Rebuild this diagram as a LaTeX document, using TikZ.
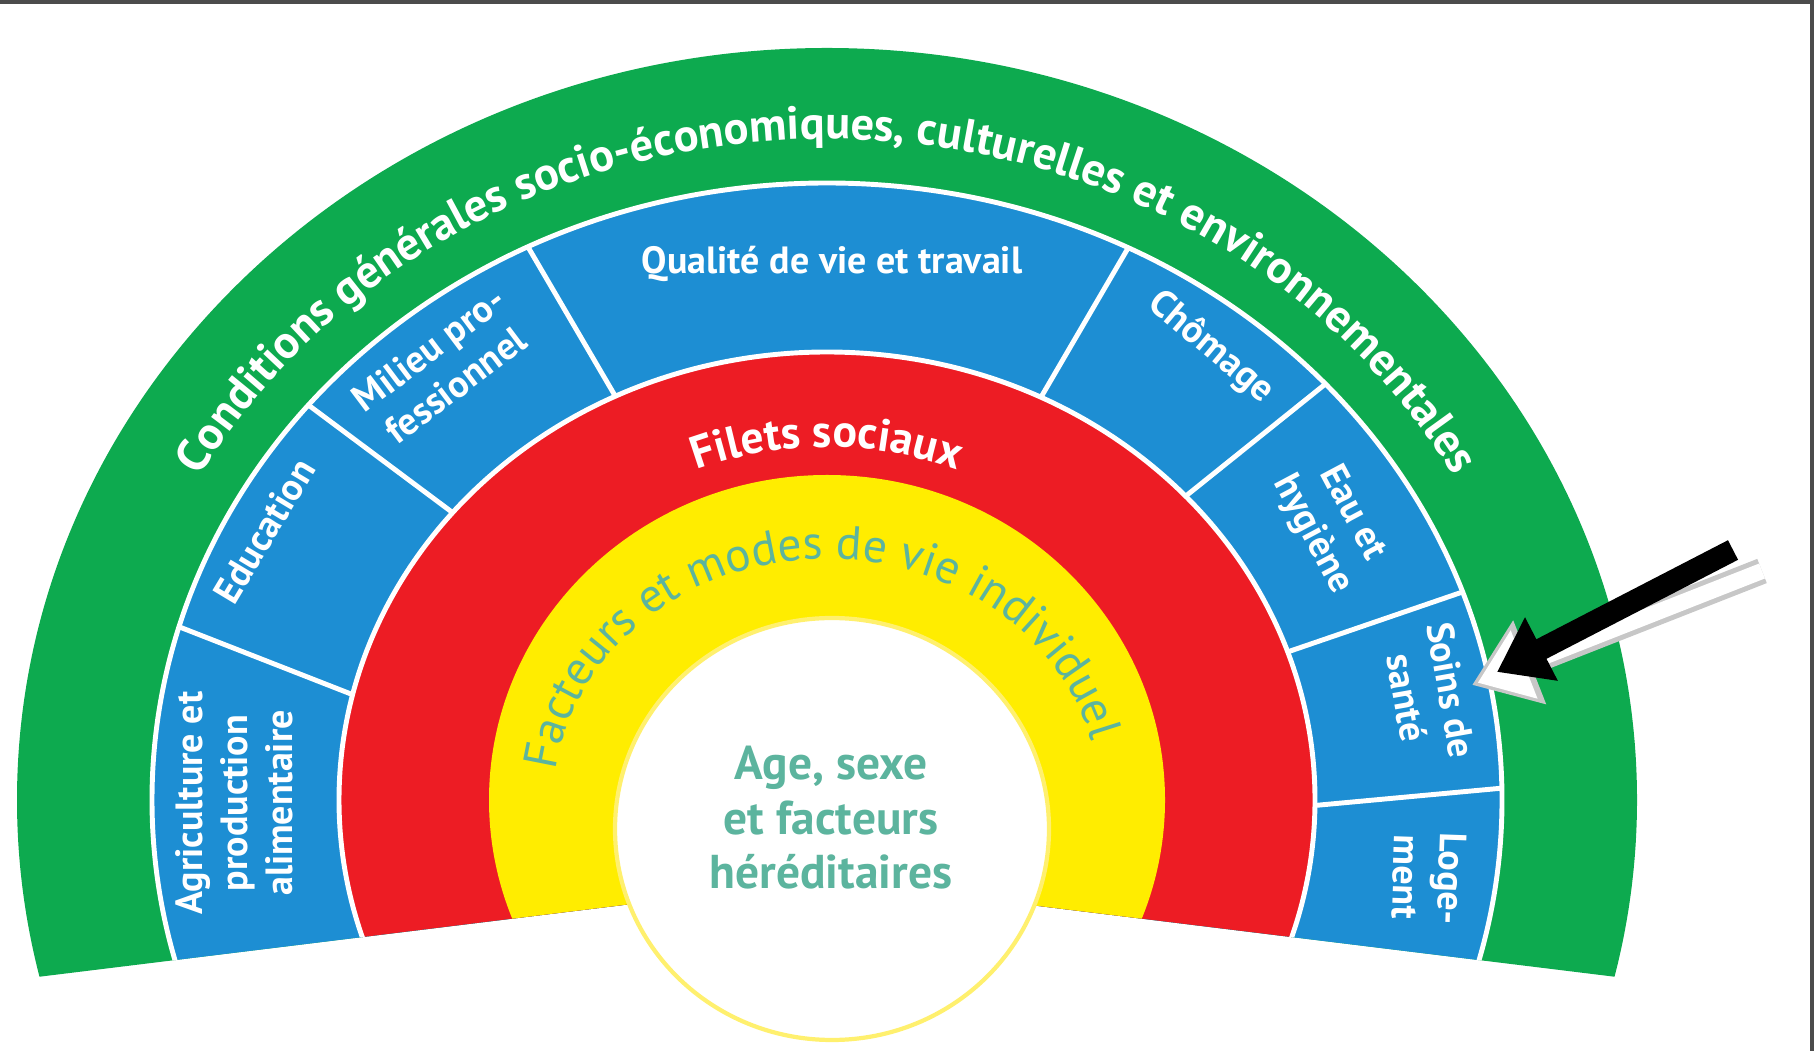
\documentclass[tikz,border=0pt]{standalone}
\usepackage{fontspec}
\setmainfont{PT Sans}
\usetikzlibrary{arrows.meta,decorations.text,calc}

\definecolor{ringgreen}{RGB}{13,170,79}
\definecolor{ringblue}{RGB}{29,142,211}
\definecolor{ringred}{RGB}{237,28,36}
\definecolor{ringyellow}{RGB}{255,237,0}
\definecolor{tealtext}{RGB}{92,180,158}
\definecolor{rimyellow}{RGB}{255,240,110}

\begin{document}
\begin{tikzpicture}[
  gap/.style={draw=white, line width=1.4pt},
  bandlabel/.style={text=white, align=center, inner sep=0pt,
    font=\fontsize{10.8}{12.8}\selectfont\bfseries},
  coretext/.style={text=tealtext, align=center, inner sep=0pt,
    font=\fontsize{13.5}{15.5}\selectfont\bfseries},
  pointer/.style={black, line width=0.22cm,
    -{Triangle[length=0.5cm,width=0.68cm]}},
  pointer rim/.style={black!22, line width=0.26cm,
    -{Triangle[length=0.62cm,width=0.86cm]}},
  pointer fill/.style={white, line width=0.16cm, shorten >=0.06cm,
    -{Triangle[length=0.5cm,width=0.7cm]}}
]
  \useasboundingbox (0,0) rectangle (18.19,10.51);
  \draw[black!70, line width=0.9pt] (0,10.49) -- (18.12,10.49) -- (18.12,0);

  \coordinate (O) at (8.27,2.51);
  \coordinate (cutM) at (8.27,1.71);
  \coordinate (cutL) at (-0.8,0.596);
  \coordinate (cutR) at (17.34,0.596);

  \begin{scope}
    \clip (cutL) -- (cutM) -- (cutR) -- (17.34,11) -- (-0.8,11) -- cycle;
    \fill[ringgreen] (O) ellipse[x radius=8.10, y radius=7.52];
    \fill[ringblue] (O) ellipse[x radius=6.75, y radius=6.17];
    \foreach \a/\b in {163.7/166.4, 140.2/140.1, 116.3/115.7, 63.5/64.0,
                       42.4/42.7, 19.7/19.3, 1.1/-0.7}
      \draw[gap] ($(O)+(\a:6.75 and 6.17)$) -- ($(O)+(\b:4.88 and 4.48)$);
    \draw[gap] (O) ellipse[x radius=6.75, y radius=6.17];
    \filldraw[gap, fill=ringred] (O) ellipse[x radius=4.88, y radius=4.48];
    \fill[ringyellow] (O) ellipse[x radius=3.38, y radius=3.25];
  \end{scope}
  \filldraw[fill=white, draw=rimyellow, line width=1.2pt]
    (8.32,2.22) ellipse[x radius=2.17, y radius=2.11];

  \path[decorate, decoration={text along path, text align=center,
    text color=white,
    text={|\fontsize{13.2}{15}\selectfont\bfseries|Conditions générales socio-économiques{,} culturelles et environnementales}}]
    ($(O)+(175:7.19 and 6.61)$)
    arc[start angle=175, end angle=5, x radius=7.19, y radius=6.61];
  \path[decorate, decoration={text along path, text align=center,
    text color=white,
    text={|\fontsize{13}{15}\selectfont\bfseries|Filets sociaux}}]
    ($(O)+(170:3.68 and 3.53)$)
    arc[start angle=170, end angle=10, x radius=3.68, y radius=3.53];
  \path[decorate, decoration={text along path, text align=center,
    text color=tealtext,
    text={|\fontsize{13.5}{15}\selectfont|Facteurs et modes de vie individuel}}]
    ($(O)+(184:2.73 and 2.41)$)
    arc[start angle=184, end angle=3, x radius=2.73, y radius=2.41];

  \node[bandlabel] (qualite) at (8.32,7.87) {Qualité de vie et travail};
  \node[bandlabel, rotate=37] (milieu) at (4.42,6.84) {Milieu pro-\\fessionnel};
  \node[bandlabel, rotate=59] (education) at (2.64,5.20) {Education};
  \node[bandlabel, rotate=90] (agri) at (2.34,2.48)
    {Agriculture et\\production\\alimentaire};
  \node[bandlabel, rotate=-40] (chomage) at (12.11,7.03) {Chômage};
  \node[bandlabel, rotate=-62] (eau) at (13.32,5.27) {Eau et\\hygiène};
  \node[bandlabel, rotate=-80] (soins) at (14.29,3.57) {Soins de\\santé};
  \node[bandlabel, rotate=-92] (logement) at (14.29,1.73) {Loge-\\ment};
  \node[coretext] (core) at (8.31,2.33) {Age, sexe\\et facteurs\\héréditaires};

  \coordinate (rimtail) at (17.62,4.80);
  \coordinate (rimtip) at (14.72,3.66);
  \coordinate (tail) at (17.33,5.01);
  \coordinate (tip) at (14.97,3.79);
  \draw[pointer rim] (rimtail) -- (rimtip);
  \draw[pointer fill] (rimtail) -- (rimtip);
  \draw[pointer] (tail) -- (tip);
\end{tikzpicture}
\end{document}
